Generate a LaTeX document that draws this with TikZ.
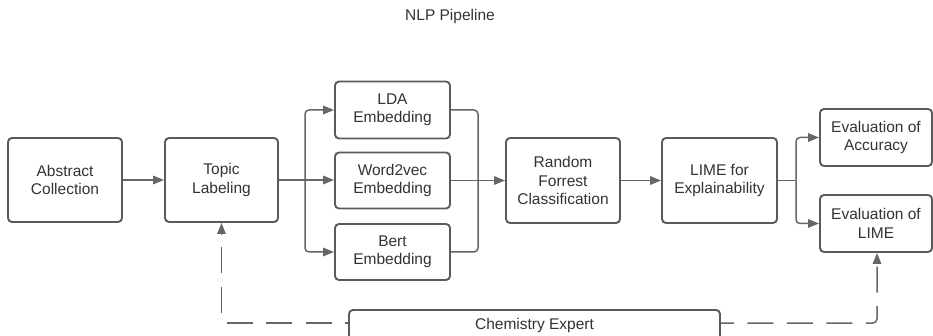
\documentclass[tikz,border=0pt]{standalone}
\usepackage{fontspec}
\setmainfont{Liberation Sans}
\usetikzlibrary{arrows.meta}
\definecolor{boxc}{HTML}{5A5A5A}
\definecolor{linec}{HTML}{666666}
\definecolor{txtc}{HTML}{333333}
\begin{document}
\begin{tikzpicture}[x=1pt,y=-1pt,
  box/.style={draw=boxc,line width=1.9pt,rounded corners=4pt,fill=white,
    text=txtc,align=center,inner sep=0pt,
    font=\fontsize{15.5}{18.5}\selectfont},
  conn/.style={draw=linec,line width=1.5pt,rounded corners=4pt,
    -{Triangle[length=11pt,width=8.5pt]}},
  plain/.style={draw=linec,line width=1.5pt,rounded corners=4pt},
  dashconn/.style={draw=linec,line width=1.5pt,rounded corners=4pt,
    -{Triangle[length=11pt,width=8.5pt]}}]
\useasboundingbox (0,0) rectangle (933,336);
\begin{scope}
\clip (0,0) rectangle (933,336);
\node[text=txtc,font=\fontsize{15.5}{18.5}\selectfont] (title) at (450,16) {NLP Pipeline};
\node[box,minimum width=114pt,minimum height=84pt] (ac) at (65,180) {Abstract\\Collection};
\node[box,minimum width=113pt,minimum height=84pt] (tl) at (221.5,180) {Topic\\Labeling};
\node[box,minimum width=115pt,minimum height=57pt] (lda) at (392.5,110) {LDA\\Embedding};
\node[box,minimum width=115pt,minimum height=56pt] (w2v) at (392.5,180.5) {Word2vec\\Embedding};
\node[box,minimum width=115pt,minimum height=56pt] (bert) at (392.5,252) {Bert\\Embedding};
\node[box,minimum width=114pt,minimum height=85pt] (rf) at (563,180.5) {Random\\Forrest\\Classification};
\node[box,minimum width=115pt,minimum height=85pt] (lime) at (719.5,180.5) {LIME for\\Explainability};
\node[box,minimum width=112pt,minimum height=57pt] (acc) at (876,137.5) {Evaluation of\\Accuracy};
\node[box,minimum width=112pt,minimum height=57pt] (elime) at (876,223.5) {Evaluation of\\LIME};
\node[box,minimum width=371pt,minimum height=60pt,anchor=north] (chem) at (534.5,309) {};
\node[text=txtc,font=\fontsize{15.5}{18.5}\selectfont] (chemt) at (534.5,325) {Chemistry Expert};
\coordinate (b1) at (305,180);
\coordinate (m1) at (478,180.5);
\coordinate (b2) at (796,180.5);
\coordinate (dl) at (221.5,323);
\coordinate (dr) at (877,323);
% connectors
\draw[conn] (ac.east) -- (tl.west);
\draw[plain] (tl.east) -- (b1);
\draw[conn] (b1) |- (lda.west);
\draw[conn] (b1) -- (w2v.west |- b1);
\draw[conn] (b1) |- (bert.west);
\draw[plain] (lda.east) -| (m1);
\draw[plain] (bert.east) -| (m1);
\draw[plain] (w2v.east) -- (m1);
\draw[conn] (m1) -- (rf.west);
\draw[conn] (rf.east) -- (lime.west);
\draw[plain] (lime.east) -- (b2);
\draw[conn] (b2) |- (acc.west);
\draw[conn] (b2) |- (elime.west);
\draw[dashconn,dash pattern=on 26pt off 13.5pt,dash phase=23pt] (chem.west |- dl) -- (dl) -- (tl.south);
\draw[dashconn,dash pattern=on 26pt off 13.5pt,dash phase=13pt] (chem.east |- dr) -- (dr) -- (elime.south -| dr);
\end{scope}
\end{tikzpicture}
\end{document}
